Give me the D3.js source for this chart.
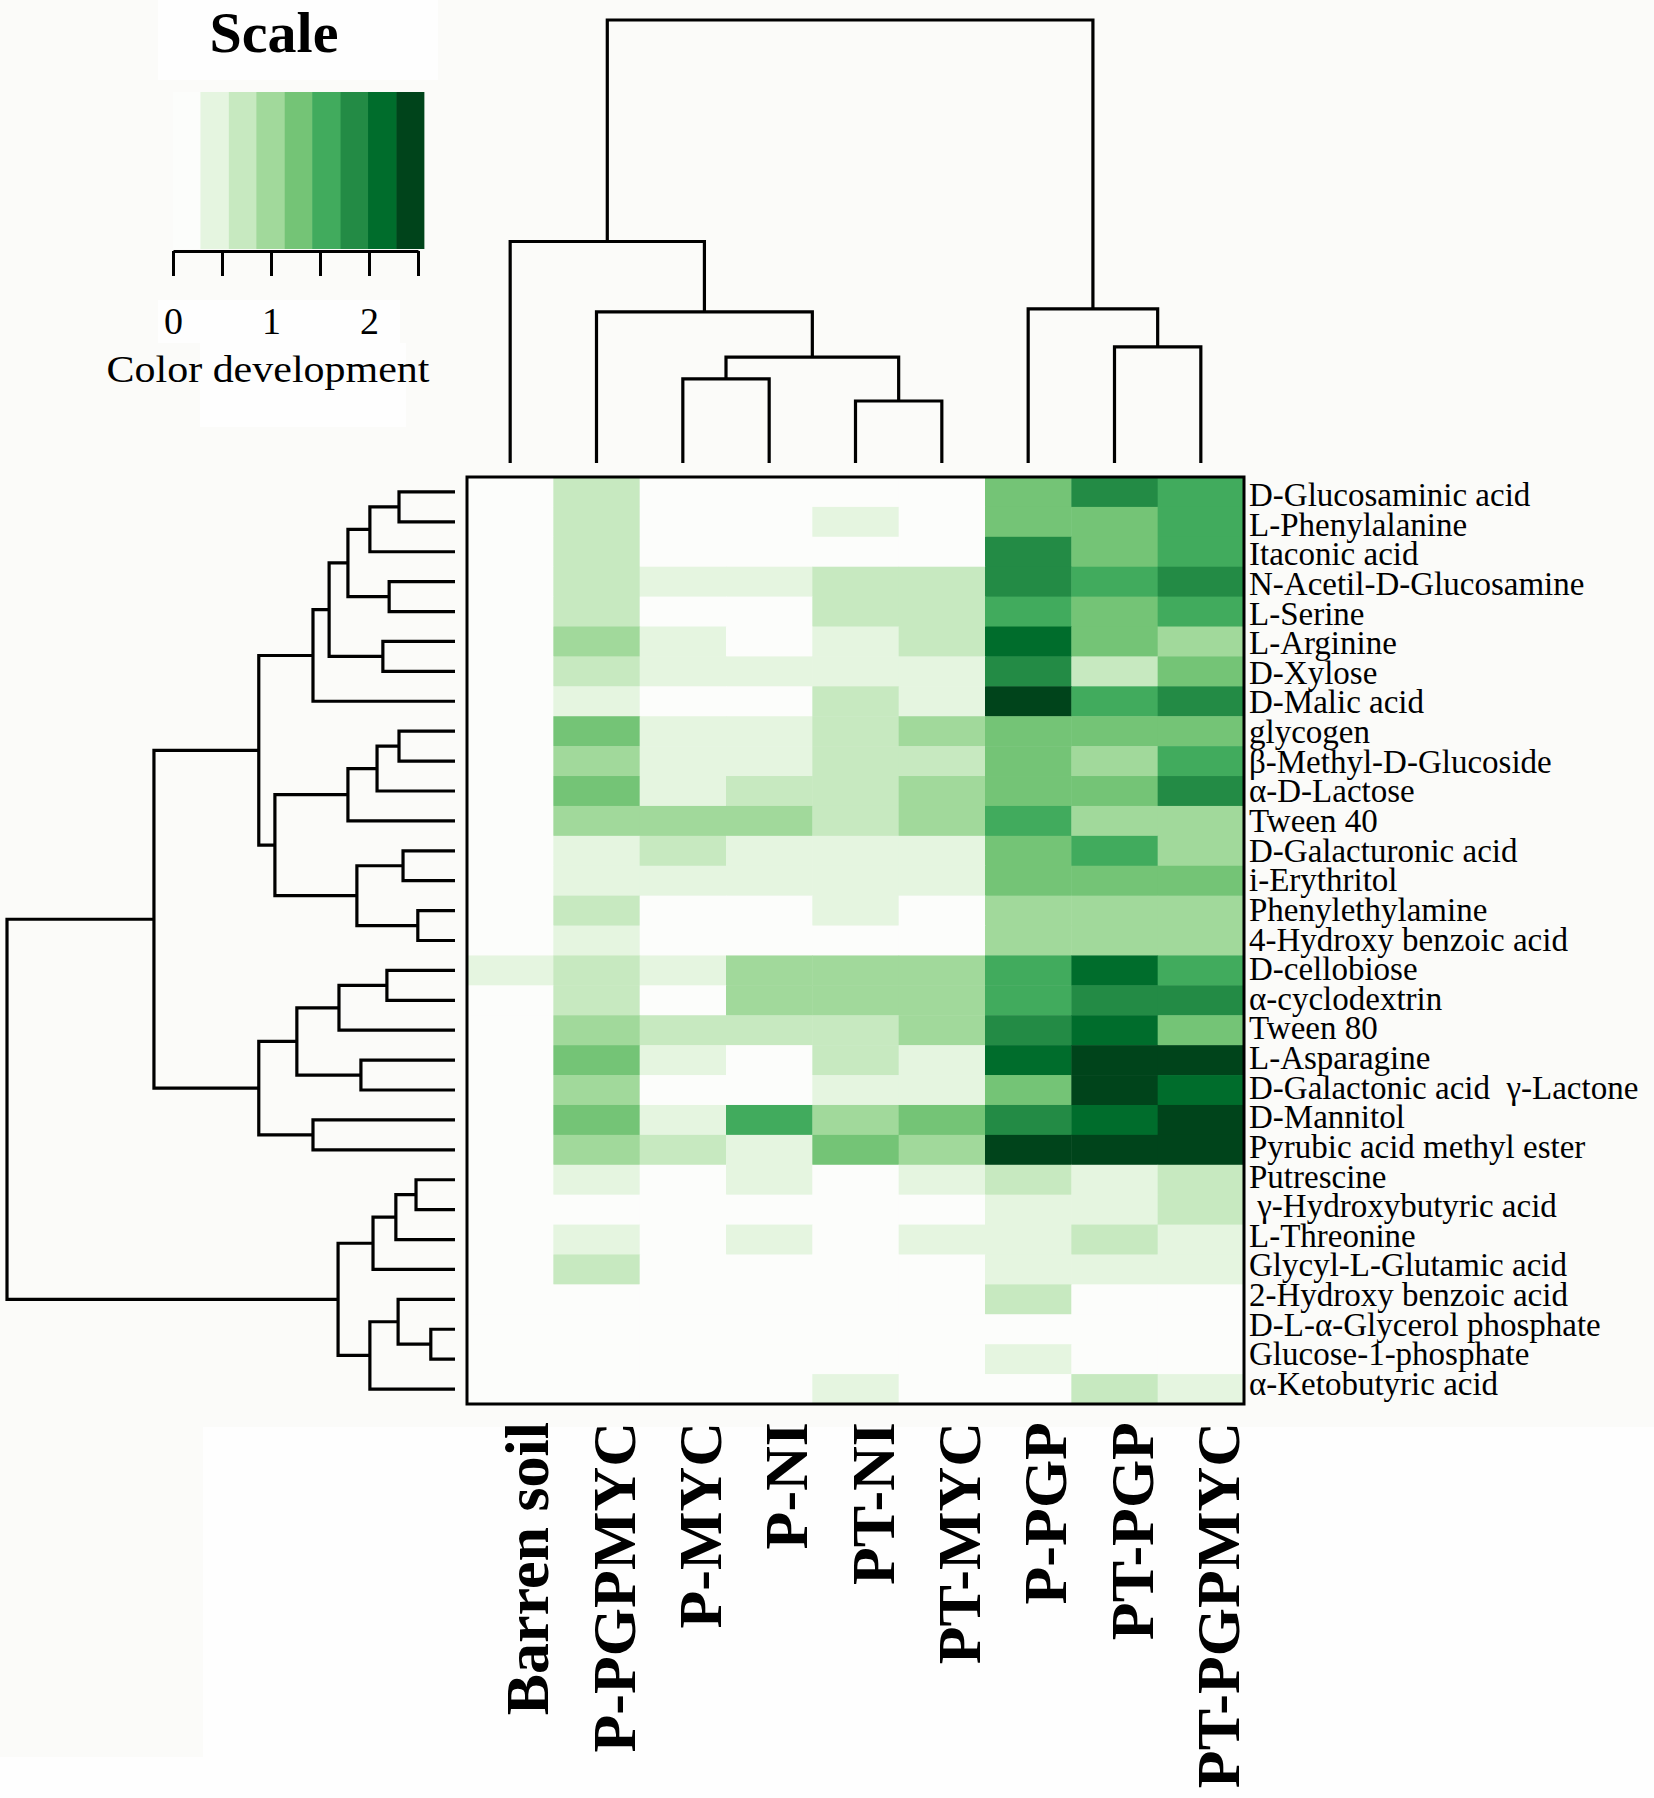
<!DOCTYPE html>
<html>
<head>
<meta charset="utf-8">
<script src="https://cdn.jsdelivr.net/npm/d3@7"></script>
<style>
  body { margin: 0; background: #fbfbf9; }
  text { font-family: "Liberation Serif", "Times New Roman", serif; fill: #000; }
</style>
</head>
<body>
<div id="chart"></div>
<script>
var W = 1654, H = 1798

var colNames = ['Barren soil', 'P-PGPMYC', 'P-MYC', 'P-NI', 'PT-NI', 'PT-MYC', 'P-PGP', 'PT-PGP', 'PT-PGPMYC']

var rowNames = [
    'D-Glucosaminic acid', 'L-Phenylalanine', 'Itaconic acid', 'N-Acetil-D-Glucosamine',
    'L-Serine', 'L-Arginine', 'D-Xylose', 'D-Malic acid', 'glycogen', 'β-Methyl-D-Glucoside',
    'α-D-Lactose', 'Tween 40', 'D-Galacturonic acid', 'i-Erythritol', 'Phenylethylamine',
    '4-Hydroxy benzoic acid', 'D-cellobiose', 'α-cyclodextrin', 'Tween 80', 'L-Asparagine',
    'D-Galactonic acid  γ-Lactone', 'D-Mannitol', 'Pyrubic acid methyl ester', 'Putrescine',
    ' γ-Hydroxybutyric acid', 'L-Threonine', 'Glycyl-L-Glutamic acid', '2-Hydroxy benzoic acid',
    'D-L-α-Glycerol phosphate', 'Glucose-1-phosphate', 'α-Ketobutyric acid'
]

// color development per substrate (rows) and treatment (columns)
var values = [
    [0, 0.7, 0, 0, 0, 0, 1.3, 1.85, 1.55],
    [0, 0.7, 0, 0, 0.4, 0, 1.3, 1.3, 1.55],
    [0, 0.7, 0, 0, 0, 0, 1.85, 1.3, 1.55],
    [0, 0.7, 0.4, 0.4, 0.7, 0.7, 1.85, 1.55, 1.85],
    [0, 0.7, 0, 0, 0.7, 0.7, 1.55, 1.3, 1.55],
    [0, 1.0, 0.4, 0, 0.4, 0.7, 2.1, 1.3, 1.0],
    [0, 0.7, 0.4, 0.4, 0.4, 0.4, 1.85, 0.7, 1.3],
    [0, 0.4, 0, 0, 0.7, 0.4, 2.4, 1.55, 1.85],
    [0, 1.3, 0.4, 0.4, 0.7, 1.0, 1.3, 1.3, 1.3],
    [0, 1.0, 0.4, 0.4, 0.7, 0.7, 1.3, 1.0, 1.55],
    [0, 1.3, 0.4, 0.7, 0.7, 1.0, 1.3, 1.3, 1.85],
    [0, 1.0, 1.0, 1.0, 0.7, 1.0, 1.55, 1.0, 1.0],
    [0, 0.4, 0.7, 0.4, 0.4, 0.4, 1.3, 1.55, 1.0],
    [0, 0.4, 0.4, 0.4, 0.4, 0.4, 1.3, 1.3, 1.3],
    [0, 0.7, 0, 0, 0.4, 0, 1.0, 1.0, 1.0],
    [0, 0.4, 0, 0, 0, 0, 1.0, 1.0, 1.0],
    [0.4, 0.7, 0.4, 1.0, 1.0, 1.0, 1.55, 2.1, 1.55],
    [0, 0.7, 0, 1.0, 1.0, 1.0, 1.55, 1.85, 1.85],
    [0, 1.0, 0.7, 0.7, 0.7, 1.0, 1.85, 2.1, 1.3],
    [0, 1.3, 0.4, 0, 0.7, 0.4, 2.1, 2.4, 2.4],
    [0, 1.0, 0, 0, 0.4, 0.4, 1.3, 2.4, 2.1],
    [0, 1.3, 0.4, 1.55, 1.0, 1.3, 1.85, 2.1, 2.4],
    [0, 1.0, 0.7, 0.4, 1.3, 1.0, 2.4, 2.4, 2.4],
    [0, 0.4, 0, 0.4, 0, 0.4, 0.7, 0.4, 0.7],
    [0, 0, 0, 0, 0, 0, 0.4, 0.4, 0.7],
    [0, 0.4, 0, 0.4, 0, 0.4, 0.4, 0.7, 0.4],
    [0, 0.7, 0, 0, 0, 0, 0.4, 0.4, 0.4],
    [0, 0, 0, 0, 0, 0, 0.7, 0, 0],
    [0, 0, 0, 0, 0, 0, 0, 0, 0],
    [0, 0, 0, 0, 0, 0, 0.4, 0, 0],
    [0, 0, 0, 0, 0.4, 0, 0, 0.7, 0.4]
]

// dendrograms: [merge height, left, right]
var colTree = [10.0,
    [5.0, 'Barren soil',
        [3.41, 'P-PGPMYC',
            [2.39, [1.90, 'P-MYC', 'P-NI'], [1.40, 'PT-NI', 'PT-MYC']]]],
    [3.48, 'P-PGP', [2.62, 'PT-PGP', 'PT-PGPMYC']]]

var rowTree = [10.0,
    [6.72,
        [4.38,
            [3.17,
                [2.81,
                    [2.39,
                        [1.90, [1.25, 'D-Glucosaminic acid', 'L-Phenylalanine'], 'Itaconic acid'],
                        [1.47, 'N-Acetil-D-Glucosamine', 'L-Serine']],
                    [1.61, 'L-Arginine', 'D-Xylose']],
                'D-Malic acid'],
            [4.02,
                [2.39, [1.74, [1.25, 'glycogen', 'β-Methyl-D-Glucoside'], 'α-D-Lactose'], 'Tween 40'],
                [2.19, [1.16, 'D-Galacturonic acid', 'i-Erythritol'],
                    [0.83, 'Phenylethylamine', '4-Hydroxy benzoic acid']]]],
        [4.38,
            [3.53,
                [2.59, [1.52, 'D-cellobiose', 'α-cyclodextrin'], 'Tween 80'],
                [2.10, 'L-Asparagine', 'D-Galactonic acid  γ-Lactone']],
            [3.17, 'D-Mannitol', 'Pyrubic acid methyl ester']]],
    [2.61,
        [1.83, [1.32, [0.87, 'Putrescine', ' γ-Hydroxybutyric acid'], 'L-Threonine'], 'Glycyl-L-Glutamic acid'],
        [1.90, [1.27, '2-Hydroxy benzoic acid', [0.54, 'D-L-α-Glycerol phosphate', 'Glucose-1-phosphate']],
            'α-Ketobutyric acid']]]

var greens = ['#fcfdfb', '#e5f5e0', '#c7e9c0', '#a1d99b', '#74c476', '#41ab5d', '#238b45', '#006d2c', '#00441b']
var colorBreaks = [0.28, 0.57, 0.85, 1.14, 1.42, 1.71, 1.99, 2.28]
var legendMax = 2.56
var legendTicks = [0, 0.5, 1, 1.5, 2, 2.5]

var svg = d3.select('#chart').append('svg')
    .attr('width', W)
    .attr('height', H)

svg.append('rect')
    .attr('width', W)
    .attr('height', H)
    .attr('fill', '#fbfbf9')

// the lighter patches of the original figure's background
var patches = [[203, 1427, 1451, 371], [0, 1757, 203, 41], [158, 0, 280, 80], [158, 300, 242, 43], [200, 343, 206, 84]]
svg.append('g').selectAll('rect')
    .data(patches)
    .enter()
    .append('rect')
    .attr('x', function (d) { return d[0] })
    .attr('y', function (d) { return d[1] })
    .attr('width', function (d) { return d[2] })
    .attr('height', function (d) { return d[3] })
    .attr('fill', '#fefefe')

var x = d3.scaleBand().domain(colNames).range([467, 1244])
var y = d3.scaleBand().domain(rowNames).range([477, 1404])
var labelY = d3.scalePoint().domain(rowNames).range([506, 1395])
var color = d3.scaleThreshold().domain(colorBreaks).range(greens)

// heatmap cells
var cellG = svg.append('g')
values.forEach(function (row, i) {
    cellG.selectAll('.r' + i)
        .data(row)
        .enter()
        .append('rect')
        .attr('class', 'r' + i)
        .attr('x', function (d, j) { return x(colNames[j]) })
        .attr('y', y(rowNames[i]))
        .attr('width', x.bandwidth() + 0.5)
        .attr('height', y.bandwidth() + 0.5)
        .attr('fill', function (d) { return color(d) })
})

svg.append('rect')
    .attr('x', 467)
    .attr('y', 477)
    .attr('width', 777)
    .attr('height', 927)
    .attr('fill', 'none')
    .attr('stroke', '#000')
    .attr('stroke-width', 3)

// row labels
svg.append('g').selectAll('text')
    .data(rowNames)
    .enter()
    .append('text')
    .attr('x', 1249)
    .attr('y', function (d) { return labelY(d) })
    .style('font-size', '33px')
    .style('white-space', 'pre')
    .text(function (d) { return d })

// column labels
svg.append('g').selectAll('text')
    .data(colNames)
    .enter()
    .append('text')
    .attr('transform', function (d) {
        return 'translate(' + (x(d) + x.bandwidth() / 2 + 38) + ',1422) rotate(-90)'
    })
    .attr('text-anchor', 'end')
    .style('font-size', '62px')
    .style('font-weight', 'bold')
    .text(function (d) { return d })

// dendrograms
function drawDendro(tree, posScale, hScale, vertical) {
    var root = d3.hierarchy(tree, function (d) { return Array.isArray(d) ? d.slice(1) : null })
    root.eachAfter(function (n) {
        if (n.children) {
            n.pos = d3.mean(n.children, function (c) { return c.pos })
            n.h = n.data[0]
        } else {
            n.pos = posScale(n.data) + posScale.bandwidth() / 2
            n.h = 0
        }
    })
    var links = root.descendants().filter(function (n) { return n.children })
    svg.append('g').selectAll('path')
        .data(links)
        .enter()
        .append('path')
        .attr('fill', 'none')
        .attr('stroke', '#000')
        .attr('stroke-width', 3.2)
        .attr('d', function (n) {
            var a = n.children[0], b = n.children[1]
            if (vertical) {
                return 'M' + a.pos + ',' + hScale(a.h) + 'V' + hScale(n.h) +
                    'H' + b.pos + 'V' + hScale(b.h)
            }
            return 'M' + hScale(a.h) + ',' + a.pos + 'H' + hScale(n.h) +
                'V' + b.pos + 'H' + hScale(b.h)
        })
}

drawDendro(colTree, x, d3.scaleLinear().domain([0, 10]).range([463, 20]), true)
drawDendro(rowTree, y, d3.scaleLinear().domain([0, 10]).range([455, 7]), false)

// colour key
var lx = d3.scaleLinear().domain([0, 2.5]).range([173, 418])
var blockStarts = [0].concat(colorBreaks)
var legend = svg.append('g')

legend.selectAll('rect')
    .data(blockStarts)
    .enter()
    .append('rect')
    .attr('x', function (d) { return lx(d) })
    .attr('y', 92)
    .attr('width', function (d, i) {
        var next = i < colorBreaks.length ? colorBreaks[i] : legendMax
        return lx(next) - lx(d) + 0.5
    })
    .attr('height', 157)
    .attr('fill', function (d) { return color(d) })

var keyAxis = legend.append('g')
    .attr('transform', 'translate(0,251)')
    .call(d3.axisBottom(lx)
        .tickValues(legendTicks)
        .tickSize(25)
        .tickSizeOuter(0)
        .tickPadding(31)
        .tickFormat(function (d) { return Number.isInteger(d) ? d : '' }))
keyAxis.select('.domain').attr('stroke-width', 3)
keyAxis.selectAll('.tick line').attr('stroke-width', 3)
keyAxis.selectAll('.tick text')
    .style('font-size', '38px')
    .style('font-family', '"Liberation Serif", "Times New Roman", serif')
    .attr('fill', '#000')

legend.append('text')
    .attr('x', 274)
    .attr('y', 52)
    .attr('text-anchor', 'middle')
    .style('font-size', '58px')
    .style('font-weight', 'bold')
    .text('Scale')

legend.append('text')
    .attr('x', 268)
    .attr('y', 382)
    .attr('text-anchor', 'middle')
    .style('font-size', '38px')
    .attr('textLength', 323)
    .attr('lengthAdjust', 'spacingAndGlyphs')
    .text('Color development')
</script>
</body>
</html>
